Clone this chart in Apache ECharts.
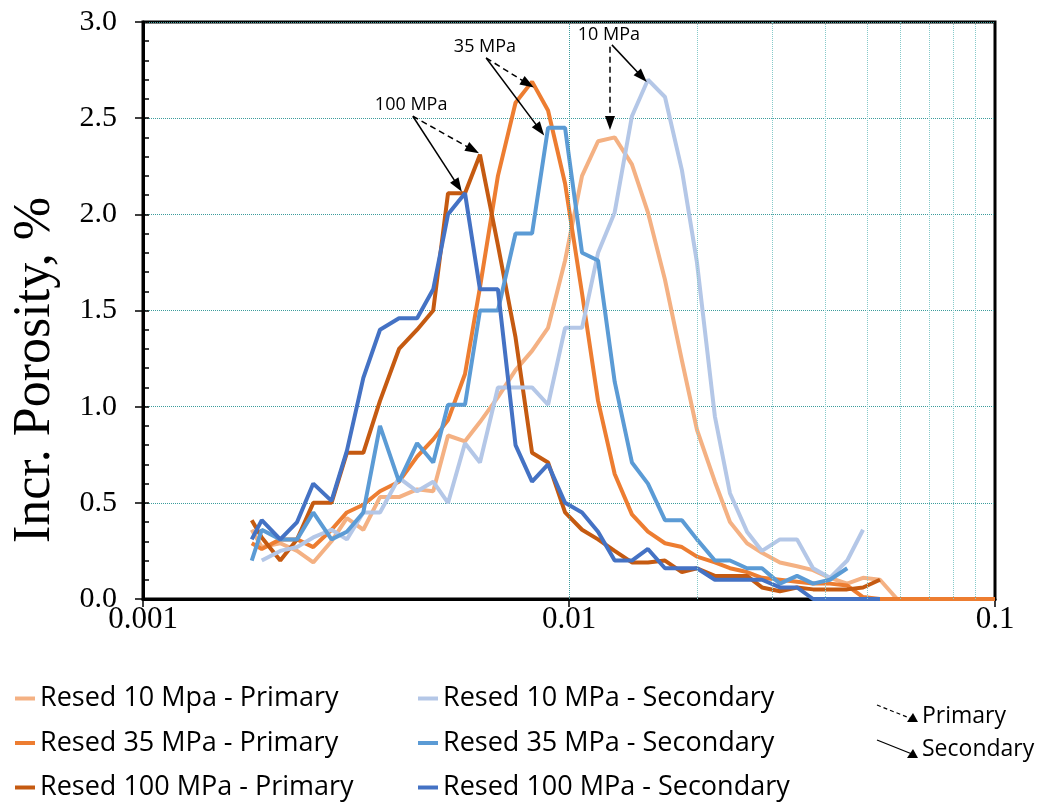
<!DOCTYPE html>
<html>
<head>
<meta charset="utf-8">
<script src="https://cdn.jsdelivr.net/npm/echarts@6/dist/echarts.min.js"></script>
<style>html,body{margin:0;padding:0;background:#fff;}#chart{width:1045px;height:802px;}</style>
</head>
<body>
<div id="chart"></div>
<script>
// pore throat radius (x) shared by all curves
const radius = [0.00180,0.00190,0.00210,0.00230,0.00251,0.00277,0.00301,0.00329,0.00360,0.00399,0.00440,0.00480,0.00520,0.00570,0.00618,0.00681,0.00749,0.00819,0.00893,0.00979,0.01073,0.01170,0.0128,0.01405,0.01532,0.0168,0.01841,0.01997,0.0220,0.02387,0.02617,0.02838,0.03127,0.0343,0.0374,0.04097,0.0450,0.0490,0.0537,0.0589,0.1];
const p10 = [0.36,0.27,0.29,0.25,0.19,0.30,0.42,0.36,0.53,0.53,0.57,0.56,0.85,0.82,0.92,1.05,1.19,1.29,1.41,1.76,2.20,2.38,2.40,2.26,2.01,1.66,1.24,0.88,0.61,0.40,0.29,0.24,0.19,0.17,0.15,0.11,0.08,0.11,0.10,0.00,0.00];
const p35 = [0.29,0.26,0.31,0.31,0.27,0.36,0.45,0.49,0.56,0.61,0.74,0.83,0.93,1.17,1.62,2.20,2.58,2.69,2.54,2.16,1.59,1.03,0.65,0.44,0.35,0.29,0.27,0.22,0.19,0.16,0.14,0.11,0.10,0.09,0.08,0.08,0.07,0.01,0.00,0.00,0.00];
const p100 = [0.41,0.32,0.20,0.31,0.50,0.50,0.76,0.76,1.03,1.30,1.40,1.50,2.11,2.11,2.31,1.84,1.36,0.76,0.71,0.45,0.36,0.31,0.25,0.19,0.19,0.20,0.14,0.16,0.12,0.12,0.12,0.06,0.04,0.06,0.05,0.05,0.05,0.06,0.10,null,null];
const s10 = [null,0.20,0.25,0.27,0.32,0.36,0.31,0.45,0.45,0.63,0.56,0.61,0.50,0.81,0.71,1.10,1.10,1.10,1.01,1.41,1.41,1.80,2.01,2.51,2.70,2.61,2.23,1.75,0.95,0.55,0.35,0.25,0.31,0.31,0.16,0.11,0.20,0.36,null,null,null];
const s35 = [0.20,0.36,0.31,0.31,0.45,0.31,0.35,0.45,0.90,0.61,0.81,0.71,1.01,1.01,1.50,1.50,1.90,1.90,2.45,2.45,1.80,1.76,1.13,0.71,0.60,0.41,0.41,0.31,0.20,0.20,0.16,0.16,0.08,0.12,0.08,0.10,0.16,null,null,null,null];
const s100 = [0.31,0.41,0.31,0.40,0.60,0.51,0.77,1.15,1.40,1.46,1.46,1.61,2.00,2.11,1.61,1.61,0.80,0.61,0.70,0.50,0.45,0.35,0.20,0.20,0.26,0.16,0.16,0.16,0.10,0.10,0.10,0.10,0.06,0.06,0.00,0.00,0.00,0.00,0.00,null,null];

const seriesNames = ['Resed 10 Mpa - Primary','Resed 35 MPa - Primary','Resed 100 MPa - Primary','Resed 10 MPa - Secondary','Resed 35 MPa - Secondary','Resed 100 MPa - Secondary'];
const seriesColors = ['#F4B183','#ED7D31','#C55A11','#B4C7E7','#5B9BD5','#4472C4'];
const seriesValues = [p10,p35,p100,s10,s35,s100];

const xTickLabels = {0.001:'0.001',0.01:'0.01',0.1:'0.1'};
const minorGridX = [0.002,0.003,0.004,0.005,0.006,0.007,0.008,0.009,0.02,0.03,0.04,0.05,0.06,0.07,0.08,0.09];

const annotations = [
  {text:'100 MPa', at:[0.00426,2.57], from:[0.0043,2.51], primary:[0.00595,2.335], from2:[0.0043,2.51], secondary:[0.00549,2.148]},
  {text:'35 MPa', at:[0.00635,2.87], from:[0.00639,2.813], primary:[0.00801,2.678], from2:[0.00639,2.813], secondary:[0.00855,2.439]},
  {text:'10 MPa', at:[0.01241,2.935], from:[0.01248,2.871], primary:[0.01248,2.475], from2:[0.01261,2.881], secondary:[0.01484,2.714]}
];

const chart = echarts.init(document.getElementById('chart'));
const SERIF = '"Liberation Serif","Times New Roman",serif';
const SANS = '"Open Sans","Liberation Sans",sans-serif';

const series = seriesNames.map((n,i)=>({
  name:n, type:'line', showSymbol:false, symbol:'none', z:3,
  lineStyle:{width:4,color:seriesColors[i]}, itemStyle:{color:seriesColors[i]},
  data: radius.map((x,k)=>[x,seriesValues[i][k]]).filter(d=>d[1]!==null)
}));

series.unshift({
  type:'line', name:'grid', data:[], z:1, silent:true, symbol:'none',
  markLine:{silent:true, symbol:'none', label:{show:false},
    data:[...minorGridX.map(v=>({xAxis:v, lineStyle:{color:'#86CACA',type:'dotted',width:1}})),
          {xAxis:0.01, lineStyle:{color:'#3C9C9C',type:'dotted',width:1}}]}
});

const arrowData = [];
const textData = [];
annotations.forEach(a=>{
  arrowData.push([{coord:a.from, symbol:'none'},{coord:a.primary, symbol:'triangle', lineStyle:{type:[6,4]}}]);
  arrowData.push([{coord:a.from2, symbol:'none'},{coord:a.secondary, symbol:'triangle'}]);
  textData.push({coord:a.at, value:a.text});
});
series.push({
  type:'line', name:'annot', data:[], z:5, silent:true, symbol:'none',
  markLine:{silent:true, symbolSize:[10,14], label:{show:false}, lineStyle:{color:'#000',width:1.5,type:'solid'},
    data:arrowData},
  markPoint:{silent:true, symbol:'circle', symbolSize:0,
    label:{show:true, formatter:p=>p.value, color:'#000', fontFamily:SANS, fontSize:18},
    data:textData}
});

const legendCommon = {orient:'vertical',top:685,height:117,padding:0,itemWidth:20,itemHeight:4,itemGap:17.5,icon:'rect',
  textStyle:{fontFamily:SANS,fontSize:27,color:'#000',lineHeight:27}};

chart.setOption({
  animation:false,
  backgroundColor:'#fff',
  grid:{left:143,right:50,top:22,bottom:203,show:true,borderColor:'#000',borderWidth:3,backgroundColor:'transparent'},
  xAxis:{type:'log',logBase:10,min:0.001,max:0.1,
    axisLine:{show:true,lineStyle:{color:'#000',width:3}},
    axisTick:{show:true,length:8,lineStyle:{color:'#000',width:1.5}},
    axisLabel:{formatter:v=>xTickLabels[v]||'',fontFamily:SERIF,fontSize:31,color:'#000',margin:5},
    splitLine:{show:false}},
  yAxis:[{type:'value',min:0,max:3,interval:0.5,
    axisLine:{show:true,lineStyle:{color:'#000',width:3}},
    axisTick:{show:true,length:8,lineStyle:{color:'#000',width:1.5}},
    axisLabel:{formatter:v=>v.toFixed(1),fontFamily:SERIF,fontSize:30,color:'#000',margin:26},
    splitLine:{show:true,lineStyle:{color:'#3C9C9C',type:'dotted',width:1}}},
   {type:'value',min:0,max:3,interval:0.1,position:'left',
    axisLine:{show:false},axisLabel:{show:false},splitLine:{show:false},
    axisTick:{show:true,inside:true,length:6,lineStyle:{color:'#000',width:1.5}}}],
  legend:[
    Object.assign({left:15,data:seriesNames.slice(0,3)},legendCommon),
    Object.assign({left:418,data:seriesNames.slice(3)},legendCommon)
  ],
  graphic:[
    {type:'text',x:35,y:370,rotation:Math.PI/2,
     style:{text:'Incr. Porosity, %',fontFamily:SERIF,fontSize:52,fill:'#000',textAlign:'center',textVerticalAlign:'middle'}},
    {type:'line',shape:{x1:877,y1:705,x2:912,y2:719},style:{stroke:'#000',lineWidth:1.2,lineDash:[4,3]}},
    {type:'polygon',shape:{points:[[918,722],[907,722],[913,713]]},style:{fill:'#000'}},
    {type:'text',left:922,top:705,style:{text:'Primary',fontFamily:SANS,fontSize:23,fill:'#000'}},
    {type:'line',shape:{x1:877,y1:740,x2:912,y2:754},style:{stroke:'#000',lineWidth:1.2}},
    {type:'polygon',shape:{points:[[918,758],[907,758],[913,749]]},style:{fill:'#000'}},
    {type:'text',left:922,top:738,style:{text:'Secondary',fontFamily:SANS,fontSize:23,fill:'#000'}}
  ],
  series:series
});
</script>
</body>
</html>
